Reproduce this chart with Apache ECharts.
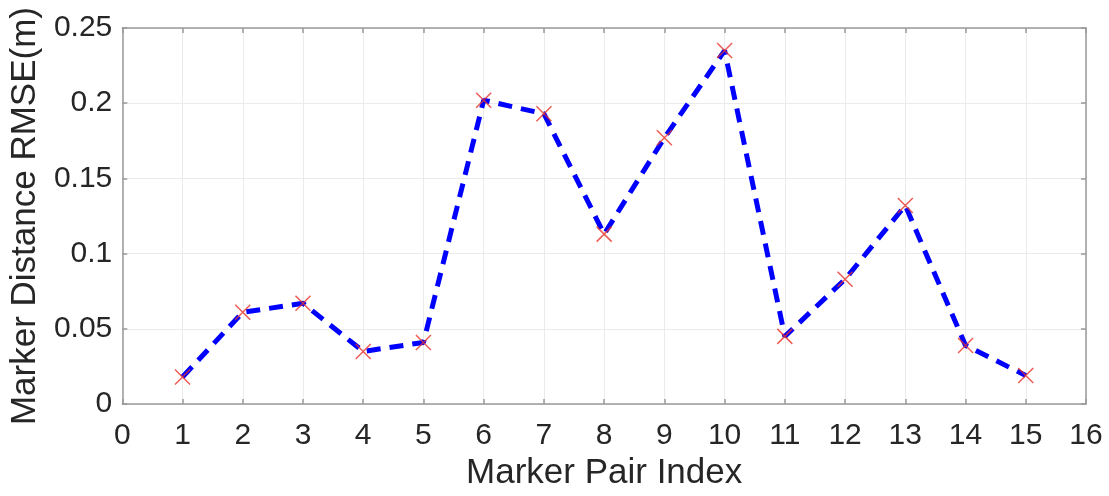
<!DOCTYPE html>
<html>
<head>
<meta charset="utf-8">
<style>
  html, body { margin: 0; padding: 0; background: #ffffff; }
  #chart { width: 1109px; height: 496px; }
</style>
<script src="https://cdn.jsdelivr.net/npm/echarts@6/dist/echarts.min.js"></script>
</head>
<body>
<div id="chart"></div>
<script>
// Marker pair indices and their distance RMSE in metres
const pairIndex = [1, 2, 3, 4, 5, 6, 7, 8, 9, 10, 11, 12, 13, 14, 15];
const rmseValues = [0.018, 0.061, 0.067, 0.035, 0.041, 0.202, 0.193, 0.113, 0.177, 0.235, 0.045, 0.083, 0.132, 0.039, 0.019];

const xTitle = 'Marker Pair Index';
const yTitle = 'Marker Distance RMSE(m)';

const points = pairIndex.map((x, i) => [x, rmseValues[i]]);

const textColor = '#262626';
const frameColor = '#9a9a9a';
const gridColor = '#ebebeb';
const fontFamily = '"Liberation Sans", Arial, Helvetica, sans-serif';

const chart = echarts.init(document.getElementById('chart'), null, { renderer: 'canvas' });

const boxAxisX = {
  type: 'value', min: 0, max: 16, interval: 1,
  axisLine: { show: true, onZero: false, lineStyle: { color: frameColor, width: 1.5 } },
  axisTick: { show: true, inside: true, length: 5, lineStyle: { color: frameColor, width: 1.5 } },
  splitLine: { show: false },
  axisLabel: { show: false }
};
const boxAxisY = {
  type: 'value', min: 0, max: 0.25, interval: 0.05,
  axisLine: { show: true, onZero: false, lineStyle: { color: frameColor, width: 1.5 } },
  axisTick: { show: true, inside: true, length: 5, lineStyle: { color: frameColor, width: 1.5 } },
  splitLine: { show: false },
  axisLabel: { show: false }
};

chart.setOption({
  animation: false,
  backgroundColor: '#ffffff',
  grid: { left: 118, right: 23, top: 28, bottom: 91, containLabel: false },
  xAxis: [
    {
      type: 'value', position: 'bottom', min: 0, max: 16, interval: 1,
      name: xTitle, nameLocation: 'middle', nameGap: 50,
      nameTextStyle: { color: textColor, fontSize: 35, fontFamily: fontFamily },
      axisLine: { show: true, onZero: false, lineStyle: { color: frameColor, width: 1.5 } },
      axisTick: { show: true, inside: true, length: 5, lineStyle: { color: frameColor, width: 1.5 } },
      axisLabel: { color: textColor, fontSize: 30, fontFamily: fontFamily, margin: 17 },
      splitLine: { show: true, lineStyle: { color: gridColor, width: 1 } }
    },
    Object.assign({ position: 'top' }, boxAxisX)
  ],
  yAxis: [
    {
      type: 'value', position: 'left', min: 0, max: 0.25, interval: 0.05,
      name: yTitle, nameLocation: 'middle', nameGap: 72, nameRotate: 90,
      nameTextStyle: { color: textColor, fontSize: 35, fontFamily: fontFamily },
      axisLine: { show: true, onZero: false, lineStyle: { color: frameColor, width: 1.5 } },
      axisTick: { show: true, inside: true, length: 5, lineStyle: { color: frameColor, width: 1.5 } },
      axisLabel: { color: textColor, fontSize: 30, fontFamily: fontFamily, margin: 10 },
      splitLine: { show: true, lineStyle: { color: gridColor, width: 1 } }
    },
    Object.assign({ position: 'right' }, boxAxisY)
  ],
  series: [
    {
      type: 'line',
      data: points,
      showSymbol: false,
      symbol: 'none',
      lineStyle: { color: '#0000ff', width: 5, type: [14, 9] },
      z: 2
    },
    {
      type: 'scatter',
      data: points,
      symbol: 'path://M0,0L10,10M10,0L0,10',
      symbolSize: 15,
      itemStyle: { color: 'rgba(0,0,0,0)', borderColor: '#e8322b', borderWidth: 1.5 },
      z: 3
    }
  ]
});
</script>
</body>
</html>
